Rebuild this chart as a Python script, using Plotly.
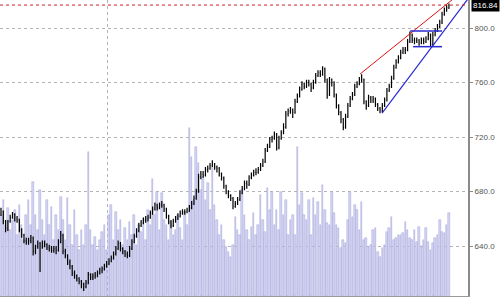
import plotly.graph_objects as go

opens = [667,665,658,653,658,661,663,660,659,652,
 648,644,643,644,646,636,640,642,640,642,
 641,639,638,637,638,637,643,648,636,633,
 628,625,620,618,616,614,612,610,613,619,
 617,618,619,620,622,623,625,627,629,631,
 634,638,642,638,636,634,633,638,643,647,
 651,655,657,659,660,661,664,667,670,668,
 670,670,667,662,658,655,658,660,662,664,
 665,665,666,668,671,675,680,691,693,692,
 696,697,699,700,698,697,693,690,684,680,
 677,675,669,671,674,679,682,686,685,690,
 692,694,694,696,699,702,710,713,718,719,
 722,712,719,723,727,737,739,740,738,746,
 750,755,759,757,760,759,756,760,765,767,
 766,770,762,751,762,760,751,743,738,733,
 727,735,743,748,751,757,759,762,762,746,
 743,749,747,748,744,741,739,743,747,754,
 757,763,771,775,778,782,784,784,790,795,
 791,791,791,789,791,790,792,795,788,795,
 798,801,804,810,813,815]
highs = [668,666,659,659,663,665,664,662,660,653,
 649,646,646,648,647,641,644,643,644,644,
 642,641,640,640,640,645,651,649,638,634,
 630,626,622,619,617,615,613,615,621,620,
 620,621,622,624,625,627,629,631,633,636,
 640,644,643,639,637,636,640,645,649,653,
 657,659,661,662,663,666,669,672,671,672,
 673,671,668,663,659,660,662,664,666,667,
 667,668,670,673,677,682,693,695,695,698,
 699,701,703,701,699,698,694,691,685,681,
 678,676,673,676,681,684,688,688,692,694,
 696,697,698,701,704,712,715,720,721,724,
 723,721,725,730,739,741,742,741,748,752,
 757,761,760,762,762,760,762,767,769,769,
 772,771,763,764,763,761,752,744,739,734,
 737,745,750,753,759,761,764,766,763,747,
 751,750,750,749,745,742,745,749,756,759,
 765,773,777,780,784,786,786,792,797.5,796,
 793,793,792,793,793,794,797,796,797,800,
 803,806,812,815,817,818]
lows = [662,656,650,651,657,660,658,657,650,646,
 642,641,641,642,633,634,638,621,638,639,
 637,636,635,635,634,636,642,634,631,626,
 623,618,616,614,612,609,607,609,612,615,
 615,616,617,619,620,622,624,626,628,630,
 633,637,636,634,632,631,632,637,642,646,
 650,654,656,657,658,660,663,666,666,667,
 668,665,660,656,653,654,657,659,661,663,
 663,664,665,667,670,674,679,689,690,691,
 694,696,698,696,694,691,688,682,678,675,
 673,667,668,670,673,678,681,682,684,689,
 691,692,693,695,698,701,709,712,716,718,
 710,711,718,722,726,735,737,734,737,745,
 749,754,755,756,757,753,755,759,764,764,
 765,760,748,750,757,749,741,736,730,725,
 726,734,742,747,750,756,758,760,744,740,
 742,745,745,742,739,737.5,738,742,746,753,
 756,762,770,774,777,781,781,783,789,789,
 788,789,787,788,788,789,791,786.5,787,794,
 797,800,803,809,812,814]
closes = [665,658,653,658,661,663,660,659,652,648,
 644,643,644,646,636,640,642,640,642,641,
 639,638,637,638,637,643,648,636,633,628,
 625,620,618,616,614,612,610,613,619,617,
 618,619,620,622,623,625,627,629,631,634,
 638,642,638,636,634,633,638,643,647,651,
 655,657,659,660,661,664,667,670,668,670,
 670,667,662,658,655,658,660,662,664,665,
 665,666,668,671,675,680,691,693,692,696,
 697,699,700,698,697,693,690,684,680,677,
 675,669,671,674,679,682,686,685,690,692,
 694,694,696,699,702,710,713,718,719,722,
 712,719,723,727,737,739,740,738,746,750,
 755,759,757,760,759,756,760,765,767,766,
 770,762,751,762,760,751,743,738,733,727,
 735,743,748,751,757,759,762,762,746,743,
 749,747,748,744,741,739,743,747,754,757,
 763,771,775,778,782,784,784,790,795,791,
 791,791,789,791,790,792,795,788,795,798,
 801,804,810,813,815,816.84]
volumes = [81,96,71,88,66,76,86,61,91,71,
 56,81,96,71,114,81,66,106,76,61,
 96,71,89,56,81,66,99,76,56,98,
 71,51,86,61,46,66,51,71,144,66,
 51,59,46,56,64,71,46,81,91,56,
 84,66,76,51,68,56,74,61,81,51,
 71,64,78,56,86,71,117,81,104,66,
 103,76,71,56,74,61,66,81,68,56,
 84,71,168,139,96,149,133,106,119,96,
 113,86,129,91,76,61,71,56,49,44,
 39,51,79,66,61,106,81,66,56,69,
 83,61,71,101,76,64,108,86,104,71,
 86,66,104,81,96,61,76,81,61,149,
 91,103,81,76,96,61,98,81,94,71,
 111,86,73,71,104,83,71,68,48,56,
 53,76,104,79,91,86,66,94,56,58,
 49,51,66,68,44,39,48,51,64,68,
 79,56,58,61,61,63,74,66,58,56,
 66,54,69,50,56,68,54,46,53,58,
 61,76,64,63,71,83]
idx = list(range(len(closes)))

price_grid = [640, 680, 720, 760, 800]
price_grid_labels = ["640.0", "680.0", "720.0", "760.0", "800.0"]
red_trend_x = [156.3, 198.0]
red_trend_y = [766.2, 822.9]
blue_trend_x = [165.9, 204.0]
blue_trend_y = [737.6, 823.0]
box_top_x = [178.1, 192.0]
box_top_y = [797.8, 797.8]
box_bot_x = [179.4, 192.0]
box_bot_y = [786.3, 786.3]
divider_x = [46.15]

fig = go.Figure()
fig.add_trace(go.Bar(x=idx, y=volumes, yaxis="y", width=0.68,
                     marker=dict(color="#d6d6f4", line=dict(width=0.5, color="#a2a2da")),
                     hoverinfo="skip"))
fig.add_trace(go.Ohlc(x=idx, open=opens, high=highs, low=lows, close=closes,
                      yaxis="y2", tickwidth=0.3,
                      increasing=dict(line=dict(color="black", width=1.2)),
                      decreasing=dict(line=dict(color="black", width=1.2))))
fig.add_trace(go.Scatter(x=red_trend_x, y=red_trend_y, yaxis="y2", mode="lines",
                         line=dict(color="#e01010", width=1)))
fig.add_trace(go.Scatter(x=blue_trend_x, y=blue_trend_y, yaxis="y2", mode="lines",
                         line=dict(color="#2a2ad0", width=1.2)))
fig.add_trace(go.Scatter(x=box_top_x, y=box_top_y, yaxis="y2", mode="lines",
                         line=dict(color="#2a2ad0", width=1.5)))
fig.add_trace(go.Scatter(x=box_bot_x, y=box_bot_y, yaxis="y2", mode="lines",
                         line=dict(color="#2a2ad0", width=1.5)))

fig.add_shape(type="line", xref="paper", x0=0, x1=1, yref="y2",
              y0=closes[-1], y1=closes[-1],
              line=dict(color="#d02020", width=1, dash="dot"))

fig.add_annotation(xref="paper", x=1.0, yref="y2", y=closes[-1], xanchor="left",
                   xshift=3, text=f"{closes[-1]:.2f}", showarrow=False,
                   bgcolor="black", font=dict(color="white", size=8, family="Liberation Sans"),
                   borderpad=1)

fig.update_layout(
    width=501, height=300,
    margin=dict(l=0, r=33, t=0, b=4),
    paper_bgcolor="white", plot_bgcolor="white",
    showlegend=False,
    bargap=0,
    xaxis=dict(range=[-0.435, 203.3], rangeslider=dict(visible=False),
               tickvals=divider_x, showticklabels=False, ticks="",
               showgrid=True, gridcolor="#b4b4b4", griddash="dot", gridwidth=1,
               showline=True, linecolor="#9a9a9a", linewidth=1, zeroline=False),
    yaxis=dict(range=[0, 296], visible=False, showgrid=False, fixedrange=True),
    yaxis2=dict(range=[603.3, 820.55], overlaying="y", side="right",
                tickvals=price_grid, ticktext=price_grid_labels,
                showgrid=True, gridcolor="#b4b4b4", griddash="dot", gridwidth=1,
                showline=True, linecolor="#8a8a8a", linewidth=2,
                ticks="outside", ticklen=3, tickcolor="#8a8a8a",
                tickfont=dict(size=8, color="#555", family="Liberation Sans"),
                zeroline=False),
)

fig.write_html("out.html")
